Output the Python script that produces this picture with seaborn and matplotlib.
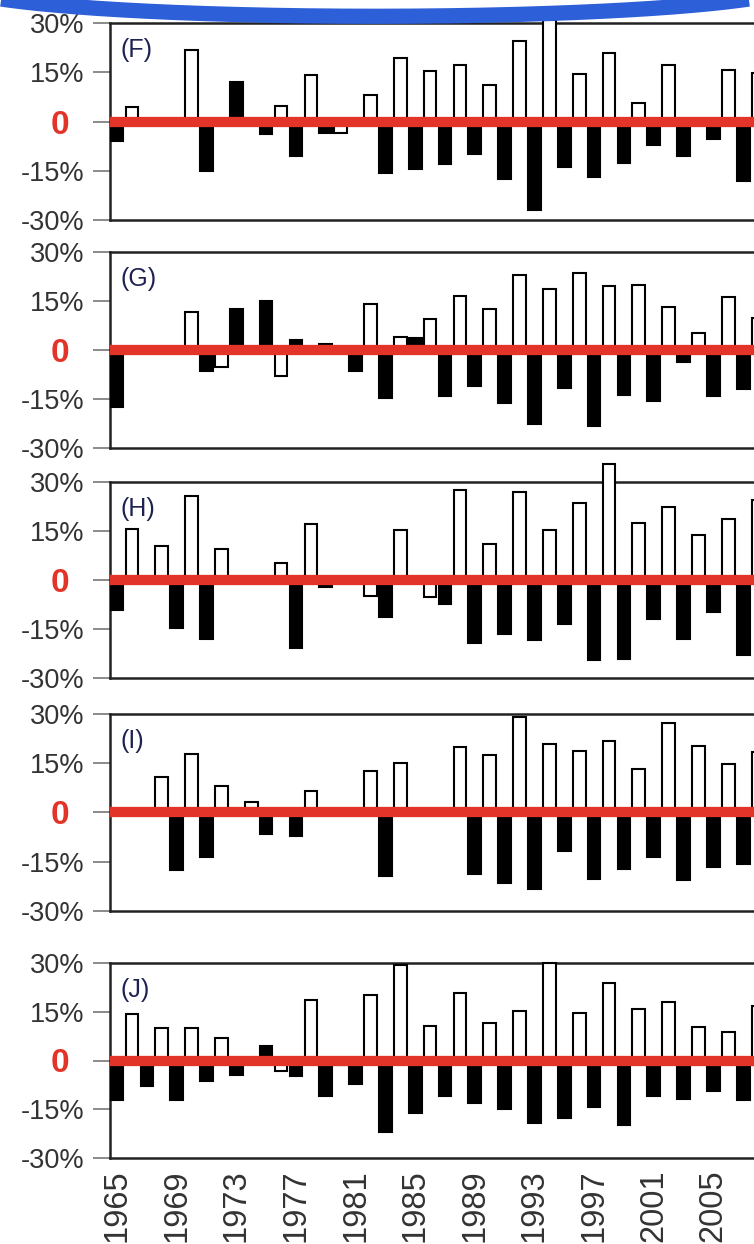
import numpy as np
import pandas as pd
import matplotlib
matplotlib.use("Agg")
import matplotlib.pyplot as plt
import seaborn as sns
from matplotlib.transforms import ScaledTranslation
from matplotlib.lines import Line2D

# ---------------- data ----------------
years = list(range(1965, 2009))
panel_labels = ["(F)", "(G)", "(H)", "(I)", "(J)"]

values_F = [-5.9, 4.3, 0, 0, 0, 21.7, -15.0, 0, 12.1, 0,
            -3.9, 4.7, -10.5, 14.1, -3.5, -3.5, -1.1, 8.0, -15.8, 19.2,
            -14.6, 15.4, -12.8, 17.1, -9.9, 11.1, -17.6, 24.6, -27.0, 31.0,
            -14.0, 14.4, -16.9, 20.9, -12.6, 5.5, -7.2, 17.2, -10.6, 0,
            -5.2, 15.8, -18.0, 14.8]
values_G = [-17.3, 0, 0, 0, 0, 11.7, -6.4, -5.1, 12.5, 0,
            15.0, -8.1, 3.0, 0, 1.7, 0, -6.4, 14.2, -14.8, 3.9,
            3.6, 9.4, -14.2, 16.6, -11.0, 12.5, -16.1, 22.9, -22.6, 18.6,
            -11.5, 23.7, -23.4, 19.5, -13.9, 20.0, -15.6, 13.2, -3.6, 5.3,
            -14.0, 16.1, -12.0, 9.7]
values_H = [-9.2, 15.5, 0, 10.4, -14.8, 25.6, -18.0, 9.4, 0, 0,
            0, 5.3, -20.7, 17.0, -2.0, 0, 0, -4.9, -11.2, 15.3,
            -1.0, -5.3, -7.3, 27.7, -19.3, 11.0, -16.5, 26.8, -18.3, 15.3,
            -13.5, 23.7, -24.6, 35.4, -24.1, 17.3, -11.9, 22.2, -18.1, 13.7,
            -9.9, 18.8, -23.1, 24.6]
values_I = [0, 0, 0, 10.9, -17.4, 17.7, -13.7, 8.1, 0, 3.3,
            -6.6, 0, -7.2, 6.6, 0, 0, 0, 12.7, -19.3, 15.0,
            0, 0, 0, 19.8, -18.6, 17.5, -21.5, 29.2, -23.4, 20.9,
            -11.8, 18.7, -20.3, 21.9, -17.1, 13.4, -13.5, 27.2, -20.7, 20.2,
            -16.6, 14.8, -15.8, 18.5]
values_J = [-12.0, 14.3, -7.9, 9.9, -12.2, 9.9, -6.4, 6.9, -4.6, 0,
            4.5, -3.1, -4.8, 18.6, -10.9, -1.3, -7.2, 20.3, -22.1, 29.3,
            -16.3, 10.6, -10.9, 20.9, -13.2, 11.5, -15.0, 15.2, -19.1, 30.0,
            -17.6, 14.7, -14.3, 23.7, -19.9, 16.0, -10.9, 18.1, -11.7, 10.2,
            -9.4, 8.9, -12.2, 16.8]

ytick_values = [30, 15, 0, -15, -30]
ytick_labels = ["30%", "15%", "0", "-15%", "-30%"]
xtick_years = list(range(1965, 2006, 4))

# ---------------- style ----------------
sns.set_style("white")
plt.rcParams['font.family'] = ['Liberation Sans', 'DejaVu Sans']

W, H = 754, 1244
fig = plt.figure(figsize=(W / 100, H / 100), dpi=100)

RED = '#e3342a'
panel_px = [(23, 220), (252, 448), (482, 678), (714, 911), (963, 1158)]
left_px, right_px = 109.6, 770

all_values = [values_F, values_G, values_H, values_I, values_J]

for i, (lab, vals) in enumerate(zip(panel_labels, all_values)):
    top, bot = panel_px[i]
    ax = fig.add_axes([left_px / W, 1 - bot / H, (right_px - left_px) / W, (bot - top) / H])
    df = pd.DataFrame({
        "year": years,
        "value": vals,
        "phase": ["odd" if y % 2 else "even" for y in years],
    })
    sns.barplot(data=df, x="year", y="value", hue="phase",
                palette={"odd": "black", "even": "white"},
                native_scale=True, width=0.85, dodge=False,
                edgecolor="black", linewidth=1.5, legend=False,
                errorbar=None, ax=ax, zorder=3)
    for p in ax.patches:
        p.set_clip_on(False)

    ax.axhline(0, color=RED, lw=7.4, zorder=6, solid_capstyle='butt')

    ax.set_xlim(1964.5, 2008.8)
    ax.set_ylim(-30, 30)
    ax.set_xlabel("")
    ax.set_ylabel("")

    for side in ["left", "top", "bottom"]:
        ax.spines[side].set_color('#222222')
        ax.spines[side].set_linewidth(1.8)
        ax.spines[side].set_zorder(2)
    ax.spines["right"].set_visible(False)

    ax.set_yticks(ytick_values, ytick_labels)
    ax.tick_params(axis='y', which='both', left=True, length=12, width=1.2,
                   color='#777777', labelsize=19.5, labelcolor='#333333', pad=6)
    zl = ax.get_yticklabels()[2]
    zl.set_color(RED)
    zl.set_fontweight('bold')
    zl.set_fontsize(24)
    zl.set_transform(zl.get_transform() + ScaledTranslation(-0.15, 0, fig.dpi_scale_trans))

    if i == len(panel_labels) - 1:
        ax.set_xticks(xtick_years, [str(y) for y in xtick_years], rotation=90)
        ax.tick_params(axis='x', length=0, labelsize=23.5, labelcolor='#333333', pad=8)
    else:
        ax.set_xticks([])

    ax.annotate(lab, xy=(0, 1), xycoords='axes fraction', xytext=(8, -11),
                textcoords='offset points', ha='left', va='top',
                fontsize=18, color='#1e2250')

# decorative blue arc at the top of the slide
t = np.linspace(0, np.pi, 300)
arc_x = 375 + 420 * np.cos(t)
arc_y = -15.5 + 31.8 * np.sin(t)
fig.add_artist(Line2D(arc_x / W, 1 - arc_y / H, transform=fig.transFigure,
                      color='#2d5fd8', lw=11, solid_capstyle='butt'))

fig.savefig("out.png", dpi=100)
